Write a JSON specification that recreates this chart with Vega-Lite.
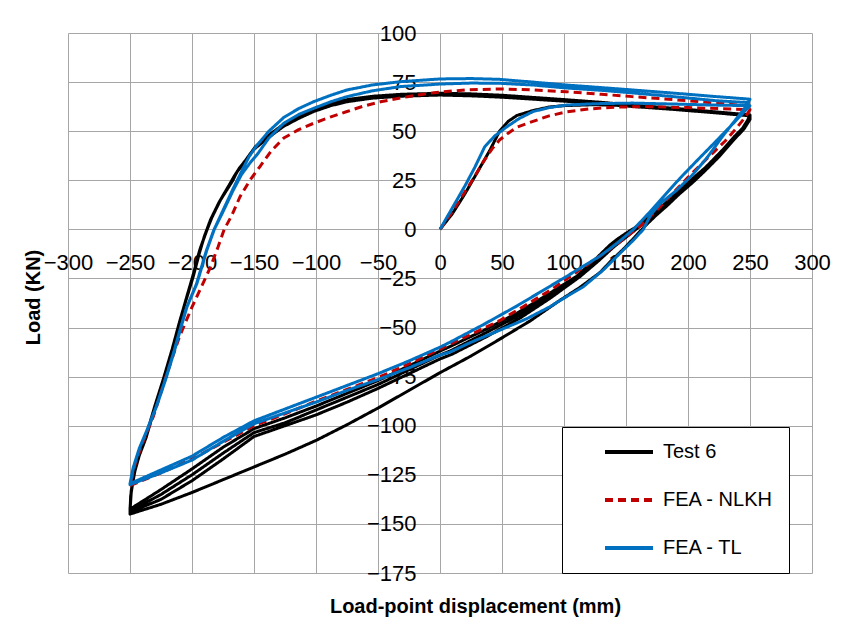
{
  "$schema": "https://vega.github.io/schema/vega-lite/v6.json",
  "width": 744,
  "height": 540,
  "autosize": {"type": "none"},
  "padding": {"left": 68, "top": 33, "right": 44, "bottom": 54},
  "background": "white",
  "config": {
    "view": {"stroke": null},
    "font": "Liberation Sans",
    "legend": {
      "orient": "none",
      "legendX": 494,
      "legendY": 394,
      "strokeColor": "#000000",
      "fillColor": "#ffffff",
      "padding": 15,
      "labelFont": "Liberation Sans",
      "labelFontSize": 20,
      "labelColor": "#000000",
      "labelOffset": 8,
      "symbolOffset": 26,
      "symbolType": "stroke",
      "symbolSize": 2304,
      "symbolStrokeWidth": 4,
      "clipHeight": 20,
      "rowPadding": 28
    }
  },
  "data": {"values": [
{"s":"Test 6","i":1,"x":0,"y":0},{"s":"Test 6","i":2,"x":10,"y":8},{"s":"Test 6","i":3,"x":20,"y":18},{"s":"Test 6","i":4,"x":30,"y":29},{"s":"Test 6","i":5,"x":40,"y":40},{"s":"Test 6","i":6,"x":48,"y":50},{"s":"Test 6","i":7,"x":55,"y":55},{"s":"Test 6","i":8,"x":62,"y":58},{"s":"Test 6","i":9,"x":75,"y":60.5},{"s":"Test 6","i":10,"x":88,"y":62.3},{"s":"Test 6","i":11,"x":100,"y":63},{"s":"Test 6","i":12,"x":125,"y":63.5},{"s":"Test 6","i":13,"x":150,"y":63},{"s":"Test 6","i":14,"x":175,"y":62},{"s":"Test 6","i":15,"x":200,"y":61},{"s":"Test 6","i":16,"x":225,"y":59.5},{"s":"Test 6","i":17,"x":250,"y":58},
{"s":"Test 6","i":18,"x":250,"y":56},{"s":"Test 6","i":19,"x":245,"y":51},{"s":"Test 6","i":20,"x":236,"y":45},{"s":"Test 6","i":21,"x":225,"y":37},{"s":"Test 6","i":22,"x":214,"y":30},{"s":"Test 6","i":23,"x":204,"y":24},{"s":"Test 6","i":24,"x":193,"y":18},{"s":"Test 6","i":25,"x":183,"y":12},{"s":"Test 6","i":26,"x":174,"y":7},{"s":"Test 6","i":27,"x":165,"y":1.5},{"s":"Test 6","i":28,"x":157,"y":-4},{"s":"Test 6","i":29,"x":148,"y":-10},{"s":"Test 6","i":30,"x":138,"y":-16},{"s":"Test 6","i":31,"x":129,"y":-22},{"s":"Test 6","i":32,"x":113,"y":-29.5},{"s":"Test 6","i":33,"x":97,"y":-36},{"s":"Test 6","i":34,"x":73,"y":-46.5},{"s":"Test 6","i":35,"x":48,"y":-56},{"s":"Test 6","i":36,"x":25,"y":-64.5},{"s":"Test 6","i":37,"x":0,"y":-73},{"s":"Test 6","i":38,"x":-25,"y":-82},{"s":"Test 6","i":39,"x":-50,"y":-91},{"s":"Test 6","i":40,"x":-75,"y":-99.5},{"s":"Test 6","i":41,"x":-100,"y":-107.5},{"s":"Test 6","i":42,"x":-125,"y":-114.5},{"s":"Test 6","i":43,"x":-150,"y":-121},{"s":"Test 6","i":44,"x":-175,"y":-127.5},{"s":"Test 6","i":45,"x":-200,"y":-134},{"s":"Test 6","i":46,"x":-225,"y":-140},{"s":"Test 6","i":47,"x":-240,"y":-143},{"s":"Test 6","i":48,"x":-250,"y":-145},
{"s":"Test 6","i":49,"x":-249.5,"y":-136},{"s":"Test 6","i":50,"x":-247,"y":-125},{"s":"Test 6","i":51,"x":-243,"y":-116},{"s":"Test 6","i":52,"x":-237,"y":-106},{"s":"Test 6","i":53,"x":-231,"y":-93},{"s":"Test 6","i":54,"x":-224,"y":-79},{"s":"Test 6","i":55,"x":-217,"y":-64},{"s":"Test 6","i":56,"x":-211,"y":-50},{"s":"Test 6","i":57,"x":-205.5,"y":-37.5},{"s":"Test 6","i":58,"x":-199,"y":-24},{"s":"Test 6","i":59,"x":-194,"y":-12},{"s":"Test 6","i":60,"x":-190,"y":-3.5},{"s":"Test 6","i":61,"x":-185,"y":5},{"s":"Test 6","i":62,"x":-178,"y":14},{"s":"Test 6","i":63,"x":-172,"y":20},{"s":"Test 6","i":64,"x":-167,"y":25},{"s":"Test 6","i":65,"x":-164,"y":29},{"s":"Test 6","i":66,"x":-159,"y":33},{"s":"Test 6","i":67,"x":-150.5,"y":40.5},{"s":"Test 6","i":68,"x":-138,"y":47},{"s":"Test 6","i":69,"x":-126,"y":52.5},{"s":"Test 6","i":70,"x":-114,"y":56.5},{"s":"Test 6","i":71,"x":-102,"y":60},{"s":"Test 6","i":72,"x":-88,"y":63},{"s":"Test 6","i":73,"x":-75,"y":65},{"s":"Test 6","i":74,"x":-55,"y":66.8},{"s":"Test 6","i":75,"x":-32,"y":67.8},{"s":"Test 6","i":76,"x":0,"y":68.4},{"s":"Test 6","i":77,"x":25,"y":68},{"s":"Test 6","i":78,"x":50,"y":67.3},{"s":"Test 6","i":79,"x":75,"y":66.3},{"s":"Test 6","i":80,"x":102,"y":65.2},{"s":"Test 6","i":81,"x":130,"y":64},{"s":"Test 6","i":82,"x":155,"y":62.6},{"s":"Test 6","i":83,"x":190,"y":61},{"s":"Test 6","i":84,"x":223,"y":59.3},{"s":"Test 6","i":85,"x":250,"y":57.8},
{"s":"Test 6","i":86,"x":248,"y":55},{"s":"Test 6","i":87,"x":244,"y":51},{"s":"Test 6","i":88,"x":236,"y":46},{"s":"Test 6","i":89,"x":226,"y":39},{"s":"Test 6","i":90,"x":215,"y":32},{"s":"Test 6","i":91,"x":204,"y":26},{"s":"Test 6","i":92,"x":193,"y":20},{"s":"Test 6","i":93,"x":183,"y":14},{"s":"Test 6","i":94,"x":172,"y":8},{"s":"Test 6","i":95,"x":160,"y":2},{"s":"Test 6","i":96,"x":150,"y":-2},{"s":"Test 6","i":97,"x":143,"y":-5},{"s":"Test 6","i":98,"x":137,"y":-8},{"s":"Test 6","i":99,"x":124,"y":-16},{"s":"Test 6","i":100,"x":110,"y":-24},{"s":"Test 6","i":101,"x":86,"y":-33.5},{"s":"Test 6","i":102,"x":62,"y":-42.7},{"s":"Test 6","i":103,"x":35,"y":-51.5},{"s":"Test 6","i":104,"x":8,"y":-59.7},{"s":"Test 6","i":105,"x":0,"y":-62},{"s":"Test 6","i":106,"x":-25,"y":-69.5},{"s":"Test 6","i":107,"x":-50,"y":-77},{"s":"Test 6","i":108,"x":-75,"y":-83.5},{"s":"Test 6","i":109,"x":-100,"y":-90},{"s":"Test 6","i":110,"x":-125,"y":-96},{"s":"Test 6","i":111,"x":-150,"y":-101.5},{"s":"Test 6","i":112,"x":-175,"y":-111},{"s":"Test 6","i":113,"x":-200,"y":-122},{"s":"Test 6","i":114,"x":-225,"y":-132.5},{"s":"Test 6","i":115,"x":-250,"y":-142.5},
{"s":"Test 6","i":116,"x":-249,"y":-133},{"s":"Test 6","i":117,"x":-246,"y":-123},{"s":"Test 6","i":118,"x":-242,"y":-114},{"s":"Test 6","i":119,"x":-236,"y":-103},{"s":"Test 6","i":120,"x":-230,"y":-90},{"s":"Test 6","i":121,"x":-223,"y":-76},{"s":"Test 6","i":122,"x":-216,"y":-61},{"s":"Test 6","i":123,"x":-210,"y":-47},{"s":"Test 6","i":124,"x":-204.5,"y":-35},{"s":"Test 6","i":125,"x":-198.5,"y":-22},{"s":"Test 6","i":126,"x":-193.5,"y":-10},{"s":"Test 6","i":127,"x":-189,"y":-2},{"s":"Test 6","i":128,"x":-184,"y":6},{"s":"Test 6","i":129,"x":-177,"y":15},{"s":"Test 6","i":130,"x":-171,"y":21.5},{"s":"Test 6","i":131,"x":-166,"y":27},{"s":"Test 6","i":132,"x":-162,"y":31},{"s":"Test 6","i":133,"x":-157,"y":35},{"s":"Test 6","i":134,"x":-149,"y":42},{"s":"Test 6","i":135,"x":-137,"y":48.5},{"s":"Test 6","i":136,"x":-125,"y":54},{"s":"Test 6","i":137,"x":-113,"y":58},{"s":"Test 6","i":138,"x":-101,"y":61.5},{"s":"Test 6","i":139,"x":-87,"y":64.3},{"s":"Test 6","i":140,"x":-74,"y":66.2},{"s":"Test 6","i":141,"x":-54,"y":67.8},{"s":"Test 6","i":142,"x":-31,"y":68.8},{"s":"Test 6","i":143,"x":0,"y":69.3},{"s":"Test 6","i":144,"x":25,"y":69},{"s":"Test 6","i":145,"x":50,"y":68.3},{"s":"Test 6","i":146,"x":75,"y":67.2},{"s":"Test 6","i":147,"x":102,"y":66},{"s":"Test 6","i":148,"x":130,"y":64.7},{"s":"Test 6","i":149,"x":155,"y":63.3},{"s":"Test 6","i":150,"x":190,"y":61.6},{"s":"Test 6","i":151,"x":223,"y":59.8},{"s":"Test 6","i":152,"x":250,"y":58.3},
{"s":"Test 6","i":153,"x":248,"y":55.5},{"s":"Test 6","i":154,"x":244,"y":51.5},{"s":"Test 6","i":155,"x":237,"y":47},{"s":"Test 6","i":156,"x":228,"y":40.5},{"s":"Test 6","i":157,"x":218,"y":34},{"s":"Test 6","i":158,"x":207,"y":27},{"s":"Test 6","i":159,"x":196,"y":21},{"s":"Test 6","i":160,"x":185,"y":14.5},{"s":"Test 6","i":161,"x":174,"y":8.5},{"s":"Test 6","i":162,"x":163,"y":2.5},{"s":"Test 6","i":163,"x":153,"y":-2},{"s":"Test 6","i":164,"x":145,"y":-6},{"s":"Test 6","i":165,"x":138,"y":-9.5},{"s":"Test 6","i":166,"x":125,"y":-17},{"s":"Test 6","i":167,"x":111,"y":-24.5},{"s":"Test 6","i":168,"x":87,"y":-34.5},{"s":"Test 6","i":169,"x":63,"y":-44},{"s":"Test 6","i":170,"x":36,"y":-53},{"s":"Test 6","i":171,"x":8,"y":-62},{"s":"Test 6","i":172,"x":0,"y":-64},{"s":"Test 6","i":173,"x":-25,"y":-71.5},{"s":"Test 6","i":174,"x":-50,"y":-79},{"s":"Test 6","i":175,"x":-75,"y":-85.5},{"s":"Test 6","i":176,"x":-100,"y":-92},{"s":"Test 6","i":177,"x":-125,"y":-98.5},{"s":"Test 6","i":178,"x":-150,"y":-103.5},{"s":"Test 6","i":179,"x":-175,"y":-114},{"s":"Test 6","i":180,"x":-200,"y":-125},{"s":"Test 6","i":181,"x":-225,"y":-135},{"s":"Test 6","i":182,"x":-250,"y":-143.5},
{"s":"Test 6","i":183,"x":-249,"y":-134},{"s":"Test 6","i":184,"x":-246.5,"y":-124},{"s":"Test 6","i":185,"x":-242.5,"y":-115},{"s":"Test 6","i":186,"x":-236.5,"y":-104.5},{"s":"Test 6","i":187,"x":-230.5,"y":-91.5},{"s":"Test 6","i":188,"x":-223.5,"y":-77.5},{"s":"Test 6","i":189,"x":-216.5,"y":-62.5},{"s":"Test 6","i":190,"x":-210.5,"y":-48.5},{"s":"Test 6","i":191,"x":-205,"y":-36},{"s":"Test 6","i":192,"x":-199,"y":-23},{"s":"Test 6","i":193,"x":-194,"y":-11},{"s":"Test 6","i":194,"x":-189.5,"y":-3},{"s":"Test 6","i":195,"x":-184.5,"y":5.5},{"s":"Test 6","i":196,"x":-177.5,"y":14.5},{"s":"Test 6","i":197,"x":-171.5,"y":21},{"s":"Test 6","i":198,"x":-166.5,"y":26},{"s":"Test 6","i":199,"x":-163,"y":30},{"s":"Test 6","i":200,"x":-158,"y":34},{"s":"Test 6","i":201,"x":-150,"y":41},{"s":"Test 6","i":202,"x":-137.5,"y":47.8},{"s":"Test 6","i":203,"x":-125.5,"y":53.3},{"s":"Test 6","i":204,"x":-113.5,"y":57.3},{"s":"Test 6","i":205,"x":-101.5,"y":60.8},{"s":"Test 6","i":206,"x":-87.5,"y":63.7},{"s":"Test 6","i":207,"x":-74.5,"y":65.6},{"s":"Test 6","i":208,"x":-54.5,"y":67.3},{"s":"Test 6","i":209,"x":-31.5,"y":68.3},{"s":"Test 6","i":210,"x":0,"y":68.8},{"s":"Test 6","i":211,"x":25,"y":68.5},{"s":"Test 6","i":212,"x":50,"y":67.8},{"s":"Test 6","i":213,"x":75,"y":66.8},{"s":"Test 6","i":214,"x":102,"y":65.6},{"s":"Test 6","i":215,"x":130,"y":64.3},{"s":"Test 6","i":216,"x":155,"y":63},{"s":"Test 6","i":217,"x":190,"y":61.3},{"s":"Test 6","i":218,"x":223,"y":59.5},{"s":"Test 6","i":219,"x":250,"y":58},
{"s":"Test 6","i":220,"x":249,"y":55},{"s":"Test 6","i":221,"x":246,"y":52},{"s":"Test 6","i":222,"x":240,"y":48},{"s":"Test 6","i":223,"x":231,"y":42},{"s":"Test 6","i":224,"x":221,"y":35.5},{"s":"Test 6","i":225,"x":210,"y":29},{"s":"Test 6","i":226,"x":199,"y":22.5},{"s":"Test 6","i":227,"x":188,"y":16},{"s":"Test 6","i":228,"x":177,"y":10},{"s":"Test 6","i":229,"x":166,"y":4},{"s":"Test 6","i":230,"x":156,"y":-1},{"s":"Test 6","i":231,"x":147,"y":-5.5},{"s":"Test 6","i":232,"x":140,"y":-9},{"s":"Test 6","i":233,"x":127,"y":-16.5},{"s":"Test 6","i":234,"x":113,"y":-24},{"s":"Test 6","i":235,"x":89,"y":-35},{"s":"Test 6","i":236,"x":65,"y":-45},{"s":"Test 6","i":237,"x":38,"y":-54.5},{"s":"Test 6","i":238,"x":10,"y":-63.5},{"s":"Test 6","i":239,"x":0,"y":-66},{"s":"Test 6","i":240,"x":-25,"y":-73.5},{"s":"Test 6","i":241,"x":-50,"y":-81},{"s":"Test 6","i":242,"x":-75,"y":-88},{"s":"Test 6","i":243,"x":-100,"y":-94.5},{"s":"Test 6","i":244,"x":-125,"y":-100},{"s":"Test 6","i":245,"x":-150,"y":-105.5},{"s":"Test 6","i":246,"x":-175,"y":-117},{"s":"Test 6","i":247,"x":-200,"y":-128},{"s":"Test 6","i":248,"x":-225,"y":-137.5},{"s":"Test 6","i":249,"x":-250,"y":-144},
{"s":"FEA - NLKH","i":1,"x":0,"y":0},{"s":"FEA - NLKH","i":2,"x":10,"y":9},{"s":"FEA - NLKH","i":3,"x":20,"y":19},{"s":"FEA - NLKH","i":4,"x":28,"y":27},{"s":"FEA - NLKH","i":5,"x":35,"y":34.5},{"s":"FEA - NLKH","i":6,"x":42,"y":41},{"s":"FEA - NLKH","i":7,"x":48,"y":45.5},{"s":"FEA - NLKH","i":8,"x":55,"y":49},{"s":"FEA - NLKH","i":9,"x":62,"y":52},{"s":"FEA - NLKH","i":10,"x":75,"y":55},{"s":"FEA - NLKH","i":11,"x":88,"y":57.8},{"s":"FEA - NLKH","i":12,"x":102,"y":59.8},{"s":"FEA - NLKH","i":13,"x":120,"y":61.3},{"s":"FEA - NLKH","i":14,"x":142,"y":62.3},{"s":"FEA - NLKH","i":15,"x":170,"y":62.5},{"s":"FEA - NLKH","i":16,"x":200,"y":62},{"s":"FEA - NLKH","i":17,"x":225,"y":61.5},{"s":"FEA - NLKH","i":18,"x":250,"y":61},
{"s":"FEA - NLKH","i":19,"x":246,"y":57},{"s":"FEA - NLKH","i":20,"x":239,"y":51.5},{"s":"FEA - NLKH","i":21,"x":230,"y":45},{"s":"FEA - NLKH","i":22,"x":221,"y":39.5},{"s":"FEA - NLKH","i":23,"x":212,"y":34},{"s":"FEA - NLKH","i":24,"x":200,"y":26.5},{"s":"FEA - NLKH","i":25,"x":188,"y":18.5},{"s":"FEA - NLKH","i":26,"x":176,"y":10.5},{"s":"FEA - NLKH","i":27,"x":164,"y":3},{"s":"FEA - NLKH","i":28,"x":156,"y":-1},{"s":"FEA - NLKH","i":29,"x":146,"y":-6},{"s":"FEA - NLKH","i":30,"x":134,"y":-11.5},{"s":"FEA - NLKH","i":31,"x":121,"y":-17},{"s":"FEA - NLKH","i":32,"x":105,"y":-24},{"s":"FEA - NLKH","i":33,"x":89,"y":-31},{"s":"FEA - NLKH","i":34,"x":68,"y":-39},{"s":"FEA - NLKH","i":35,"x":48,"y":-46.5},{"s":"FEA - NLKH","i":36,"x":25,"y":-53.5},{"s":"FEA - NLKH","i":37,"x":8,"y":-58.5},{"s":"FEA - NLKH","i":38,"x":0,"y":-61},{"s":"FEA - NLKH","i":39,"x":-25,"y":-68.5},{"s":"FEA - NLKH","i":40,"x":-50,"y":-75.5},{"s":"FEA - NLKH","i":41,"x":-75,"y":-81.5},{"s":"FEA - NLKH","i":42,"x":-100,"y":-87.5},{"s":"FEA - NLKH","i":43,"x":-125,"y":-94},{"s":"FEA - NLKH","i":44,"x":-150,"y":-100},{"s":"FEA - NLKH","i":45,"x":-175,"y":-108.5},{"s":"FEA - NLKH","i":46,"x":-200,"y":-117},{"s":"FEA - NLKH","i":47,"x":-225,"y":-124},{"s":"FEA - NLKH","i":48,"x":-250,"y":-130.5},
{"s":"FEA - NLKH","i":49,"x":-246,"y":-120},{"s":"FEA - NLKH","i":50,"x":-240,"y":-109},{"s":"FEA - NLKH","i":51,"x":-231,"y":-95},{"s":"FEA - NLKH","i":52,"x":-221,"y":-75},{"s":"FEA - NLKH","i":53,"x":-210,"y":-54.5},{"s":"FEA - NLKH","i":54,"x":-200.3,"y":-40},{"s":"FEA - NLKH","i":55,"x":-193,"y":-30},{"s":"FEA - NLKH","i":56,"x":-185.5,"y":-19.8},{"s":"FEA - NLKH","i":57,"x":-179,"y":-9},{"s":"FEA - NLKH","i":58,"x":-174,"y":0},{"s":"FEA - NLKH","i":59,"x":-168,"y":7},{"s":"FEA - NLKH","i":60,"x":-161.3,"y":16.6},{"s":"FEA - NLKH","i":61,"x":-153.2,"y":25.1},{"s":"FEA - NLKH","i":62,"x":-145.2,"y":32},{"s":"FEA - NLKH","i":63,"x":-136,"y":40},{"s":"FEA - NLKH","i":64,"x":-126,"y":46.5},{"s":"FEA - NLKH","i":65,"x":-114,"y":50.8},{"s":"FEA - NLKH","i":66,"x":-102,"y":54},{"s":"FEA - NLKH","i":67,"x":-88,"y":57.3},{"s":"FEA - NLKH","i":68,"x":-75,"y":60},{"s":"FEA - NLKH","i":69,"x":-62,"y":62.7},{"s":"FEA - NLKH","i":70,"x":-48,"y":65},{"s":"FEA - NLKH","i":71,"x":-25,"y":67.7},{"s":"FEA - NLKH","i":72,"x":-5,"y":69.6},{"s":"FEA - NLKH","i":73,"x":20,"y":71},{"s":"FEA - NLKH","i":74,"x":48,"y":71.5},{"s":"FEA - NLKH","i":75,"x":75,"y":71},{"s":"FEA - NLKH","i":76,"x":102,"y":70.1},{"s":"FEA - NLKH","i":77,"x":130,"y":68.8},{"s":"FEA - NLKH","i":78,"x":155,"y":67.6},{"s":"FEA - NLKH","i":79,"x":190,"y":66},{"s":"FEA - NLKH","i":80,"x":223,"y":64.3},{"s":"FEA - NLKH","i":81,"x":250,"y":62.8},
{"s":"FEA - TL","i":1,"x":0,"y":0},{"s":"FEA - TL","i":2,"x":10,"y":11},{"s":"FEA - TL","i":3,"x":20,"y":22},{"s":"FEA - TL","i":4,"x":28,"y":31.5},{"s":"FEA - TL","i":5,"x":36,"y":42},{"s":"FEA - TL","i":6,"x":44,"y":47.5},{"s":"FEA - TL","i":7,"x":54,"y":52.3},{"s":"FEA - TL","i":8,"x":64,"y":56.5},{"s":"FEA - TL","i":9,"x":75,"y":60},{"s":"FEA - TL","i":10,"x":88,"y":62},{"s":"FEA - TL","i":11,"x":102,"y":63.3},{"s":"FEA - TL","i":12,"x":125,"y":64},{"s":"FEA - TL","i":13,"x":155,"y":64.3},{"s":"FEA - TL","i":14,"x":190,"y":63.8},{"s":"FEA - TL","i":15,"x":220,"y":63.3},{"s":"FEA - TL","i":16,"x":250,"y":63},
{"s":"FEA - TL","i":17,"x":247,"y":61},{"s":"FEA - TL","i":18,"x":235,"y":53},{"s":"FEA - TL","i":19,"x":222,"y":44.5},{"s":"FEA - TL","i":20,"x":208,"y":35.5},{"s":"FEA - TL","i":21,"x":193.5,"y":26},{"s":"FEA - TL","i":22,"x":180,"y":16.5},{"s":"FEA - TL","i":23,"x":168,"y":8},{"s":"FEA - TL","i":24,"x":156,"y":0},{"s":"FEA - TL","i":25,"x":143,"y":-7},{"s":"FEA - TL","i":26,"x":129,"y":-13.6},{"s":"FEA - TL","i":27,"x":115,"y":-19},{"s":"FEA - TL","i":28,"x":102,"y":-24},{"s":"FEA - TL","i":29,"x":82,"y":-31.5},{"s":"FEA - TL","i":30,"x":62,"y":-39},{"s":"FEA - TL","i":31,"x":35,"y":-48.5},{"s":"FEA - TL","i":32,"x":8,"y":-57.5},{"s":"FEA - TL","i":33,"x":0,"y":-60},{"s":"FEA - TL","i":34,"x":-25,"y":-67},{"s":"FEA - TL","i":35,"x":-50,"y":-73.5},{"s":"FEA - TL","i":36,"x":-75,"y":-79.5},{"s":"FEA - TL","i":37,"x":-100,"y":-85.5},{"s":"FEA - TL","i":38,"x":-125,"y":-91.5},{"s":"FEA - TL","i":39,"x":-150,"y":-97.5},{"s":"FEA - TL","i":40,"x":-175,"y":-106},{"s":"FEA - TL","i":41,"x":-200,"y":-115.5},{"s":"FEA - TL","i":42,"x":-225,"y":-122.5},{"s":"FEA - TL","i":43,"x":-250,"y":-129.5},
{"s":"FEA - TL","i":44,"x":-247.5,"y":-121.5},{"s":"FEA - TL","i":45,"x":-242.5,"y":-111.5},{"s":"FEA - TL","i":46,"x":-236.5,"y":-102.5},{"s":"FEA - TL","i":47,"x":-229,"y":-90.5},{"s":"FEA - TL","i":48,"x":-221.5,"y":-76.5},{"s":"FEA - TL","i":49,"x":-214.5,"y":-62},{"s":"FEA - TL","i":50,"x":-208.5,"y":-48.5},{"s":"FEA - TL","i":51,"x":-204.5,"y":-40},{"s":"FEA - TL","i":52,"x":-196.5,"y":-28},{"s":"FEA - TL","i":53,"x":-188.5,"y":-11},{"s":"FEA - TL","i":54,"x":-182.5,"y":-0.5},{"s":"FEA - TL","i":55,"x":-175.5,"y":9},{"s":"FEA - TL","i":56,"x":-167,"y":20.5},{"s":"FEA - TL","i":57,"x":-160,"y":29.5},{"s":"FEA - TL","i":58,"x":-154,"y":37},{"s":"FEA - TL","i":59,"x":-148,"y":42.5},{"s":"FEA - TL","i":60,"x":-138,"y":50},{"s":"FEA - TL","i":61,"x":-126,"y":57},{"s":"FEA - TL","i":62,"x":-114,"y":61.5},{"s":"FEA - TL","i":63,"x":-102,"y":65},{"s":"FEA - TL","i":64,"x":-88,"y":68.3},{"s":"FEA - TL","i":65,"x":-75,"y":71},{"s":"FEA - TL","i":66,"x":-55,"y":73.5},{"s":"FEA - TL","i":67,"x":-32,"y":75.2},{"s":"FEA - TL","i":68,"x":0,"y":76.6},{"s":"FEA - TL","i":69,"x":25,"y":76.8},{"s":"FEA - TL","i":70,"x":48,"y":76.4},{"s":"FEA - TL","i":71,"x":75,"y":75},{"s":"FEA - TL","i":72,"x":102,"y":73.5},{"s":"FEA - TL","i":73,"x":130,"y":72.2},{"s":"FEA - TL","i":74,"x":155,"y":71},{"s":"FEA - TL","i":75,"x":190,"y":69.3},{"s":"FEA - TL","i":76,"x":223,"y":67.6},{"s":"FEA - TL","i":77,"x":250,"y":66.3},
{"s":"FEA - TL","i":78,"x":246,"y":62},{"s":"FEA - TL","i":79,"x":238,"y":55.5},{"s":"FEA - TL","i":80,"x":228,"y":47.5},{"s":"FEA - TL","i":81,"x":216,"y":37},{"s":"FEA - TL","i":82,"x":204,"y":28},{"s":"FEA - TL","i":83,"x":191,"y":20},{"s":"FEA - TL","i":84,"x":177.4,"y":13},{"s":"FEA - TL","i":85,"x":170,"y":7.5},{"s":"FEA - TL","i":86,"x":164,"y":0},{"s":"FEA - TL","i":87,"x":156,"y":-5.5},{"s":"FEA - TL","i":88,"x":147.8,"y":-10.5},{"s":"FEA - TL","i":89,"x":132,"y":-20.5},{"s":"FEA - TL","i":90,"x":115.6,"y":-29.2},{"s":"FEA - TL","i":91,"x":100,"y":-35},{"s":"FEA - TL","i":92,"x":88.7,"y":-39.4},{"s":"FEA - TL","i":93,"x":70,"y":-45.5},{"s":"FEA - TL","i":94,"x":48.4,"y":-51.3},{"s":"FEA - TL","i":95,"x":25,"y":-57.5},{"s":"FEA - TL","i":96,"x":8,"y":-62.5},{"s":"FEA - TL","i":97,"x":0,"y":-64},{"s":"FEA - TL","i":98,"x":-25,"y":-70.5},{"s":"FEA - TL","i":99,"x":-50,"y":-76.5},{"s":"FEA - TL","i":100,"x":-75,"y":-82},{"s":"FEA - TL","i":101,"x":-100,"y":-88},{"s":"FEA - TL","i":102,"x":-125,"y":-93.5},{"s":"FEA - TL","i":103,"x":-150,"y":-99},{"s":"FEA - TL","i":104,"x":-175,"y":-108},{"s":"FEA - TL","i":105,"x":-200,"y":-117.5},{"s":"FEA - TL","i":106,"x":-225,"y":-124},{"s":"FEA - TL","i":107,"x":-250,"y":-130},
{"s":"FEA - TL","i":108,"x":-247,"y":-121},{"s":"FEA - TL","i":109,"x":-242,"y":-111},{"s":"FEA - TL","i":110,"x":-236,"y":-102},{"s":"FEA - TL","i":111,"x":-228.5,"y":-90},{"s":"FEA - TL","i":112,"x":-221,"y":-76},{"s":"FEA - TL","i":113,"x":-214,"y":-61.5},{"s":"FEA - TL","i":114,"x":-208,"y":-48},{"s":"FEA - TL","i":115,"x":-204,"y":-39.4},{"s":"FEA - TL","i":116,"x":-196,"y":-27.5},{"s":"FEA - TL","i":117,"x":-188,"y":-10.5},{"s":"FEA - TL","i":118,"x":-182,"y":0},{"s":"FEA - TL","i":119,"x":-175,"y":9},{"s":"FEA - TL","i":120,"x":-166.7,"y":20},{"s":"FEA - TL","i":121,"x":-160,"y":28},{"s":"FEA - TL","i":122,"x":-153,"y":34},{"s":"FEA - TL","i":123,"x":-147,"y":38.5},{"s":"FEA - TL","i":124,"x":-138,"y":46.5},{"s":"FEA - TL","i":125,"x":-126,"y":54},{"s":"FEA - TL","i":126,"x":-114,"y":58.5},{"s":"FEA - TL","i":127,"x":-102,"y":61.6},{"s":"FEA - TL","i":128,"x":-88,"y":65},{"s":"FEA - TL","i":129,"x":-75,"y":67.6},{"s":"FEA - TL","i":130,"x":-55,"y":70.5},{"s":"FEA - TL","i":131,"x":-32,"y":72.7},{"s":"FEA - TL","i":132,"x":0,"y":74},{"s":"FEA - TL","i":133,"x":25,"y":74.5},{"s":"FEA - TL","i":134,"x":48,"y":74.4},{"s":"FEA - TL","i":135,"x":75,"y":73.5},{"s":"FEA - TL","i":136,"x":102,"y":72},{"s":"FEA - TL","i":137,"x":130,"y":70.8},{"s":"FEA - TL","i":138,"x":155,"y":69.5},{"s":"FEA - TL","i":139,"x":190,"y":67.5},{"s":"FEA - TL","i":140,"x":223,"y":65.5},{"s":"FEA - TL","i":141,"x":250,"y":64.5}
  ]},
  "mark": {"type": "line", "strokeWidth": 3, "strokeJoin": "round", "clip": false},
  "encoding": {
    "x": {
      "field": "x", "type": "quantitative",
      "scale": {"domain": [-300, 300], "nice": false, "zero": false},
      "axis": {
        "values": [-300, -250, -200, -150, -100, -50, 0, 50, 100, 150, 200, 250, 300],
        "offset": -343.6,
        "domain": false, "ticks": false, "tickSize": 0,
        "grid": true, "gridColor": "#a6a6a6", "gridWidth": 1,
        "labelFont": "Liberation Sans", "labelFontSize": 22, "labelColor": "#000000",
        "labelPadding": 23, "labelFlush": false, "labelOverlap": false,
        "title": "Load-point displacement (mm)",
        "titleFont": "Liberation Sans", "titleFontSize": 20, "titleFontWeight": "bold", "titleColor": "#000000",
        "titleX": 407, "titleY": 376.6, "titleBaseline": "middle", "titleAlign": "center"
      }
    },
    "y": {
      "field": "y", "type": "quantitative",
      "scale": {"domain": [-175, 100], "nice": false, "zero": false},
      "axis": {
        "values": [-175, -150, -125, -100, -75, -50, -25, 0, 25, 50, 75, 100],
        "offset": -372,
        "domain": false, "ticks": false, "tickSize": 0,
        "grid": true, "gridColor": "#a6a6a6", "gridWidth": 1,
        "labelFont": "Liberation Sans", "labelFontSize": 22, "labelColor": "#000000",
        "labelPadding": 24, "labelFlush": false, "labelOverlap": false, "labelBaseline": "middle",
        "title": "Load (KN)",
        "titleFont": "Liberation Sans", "titleFontSize": 20, "titleFontWeight": "bold", "titleColor": "#000000",
        "titleX": -407, "titleY": 264, "titleBaseline": "middle", "titleAlign": "center", "titleAngle": 270
      }
    },
    "color": {
      "field": "s", "type": "nominal",
      "scale": {"domain": ["Test 6", "FEA - NLKH", "FEA - TL"], "range": ["#000000", "#c00000", "#0070c0"]},
      "legend": {"title": null}
    },
    "strokeDash": {
      "field": "s", "type": "nominal",
      "scale": {"domain": ["Test 6", "FEA - NLKH", "FEA - TL"], "range": [[1, 0], [8, 5], [1, 0]]},
      "legend": {"title": null}
    },
    "order": {"field": "i", "type": "quantitative"}
  }
}
